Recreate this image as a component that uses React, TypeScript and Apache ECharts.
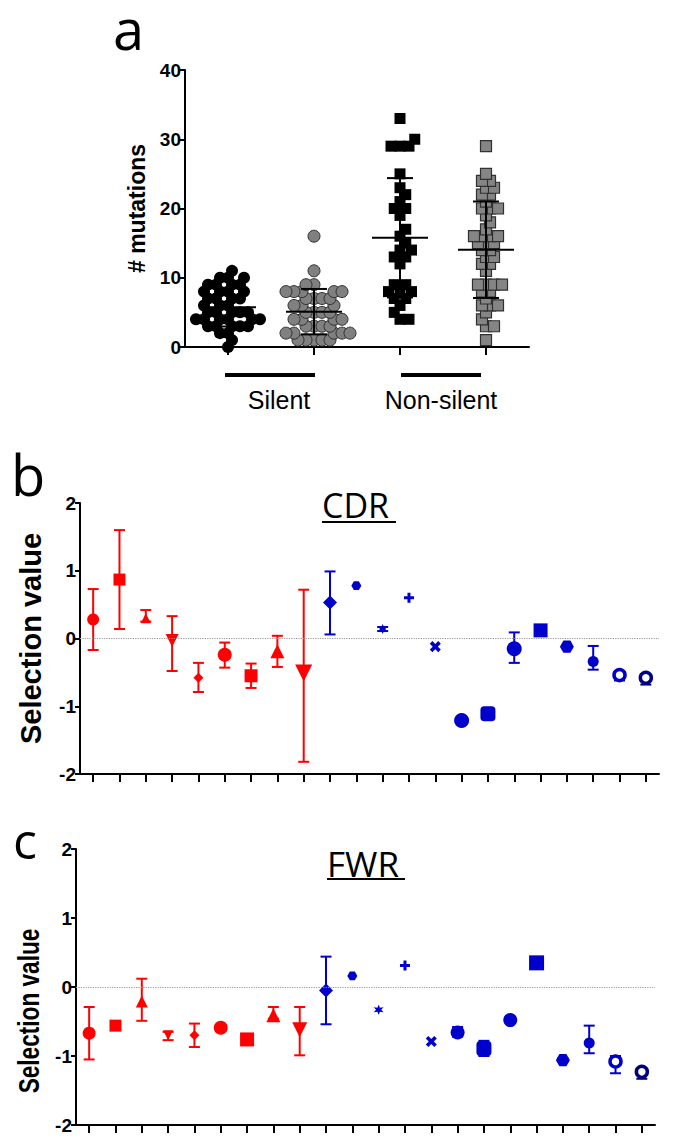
import React, { useEffect, useRef } from "react";
import * as echarts from "echarts";

// ---------- Panel a data (# mutations per sequence) ----------
const GROUPS = ["Silent 1", "Silent 2", "Non-silent 1", "Non-silent 2"];
const SILENT_BLACK = [0, 1, 2, 2, 3, 3, 3, 3, 3, 4, 4, 4, 4, 4, 4, 5, 5, 5, 5, 5, 6, 6, 6, 7, 7, 7, 7, 8, 8, 8, 8, 9, 9, 9, 9, 10, 10, 10, 11];
const SILENT_GRAY = [1, 1, 1, 1, 1, 2, 2, 2, 2, 2, 3, 3, 3, 3, 4, 4, 4, 4, 5, 5, 5, 5, 6, 6, 6, 7, 7, 7, 7, 8, 8, 8, 8, 8, 9, 9, 11, 16];
const NONSILENT_BLACK = [33, 30, 29, 29, 29, 25, 23, 22, 21, 20, 20, 19, 17, 16, 15, 14, 14, 13, 13, 12, 9, 9, 8, 8, 8, 7, 7, 6, 5, 4, 4];
const NONSILENT_GRAY = [29, 25, 24, 24, 23, 23, 22, 22, 21, 20, 20, 20, 19, 18, 17, 16, 16, 16, 16, 15, 15, 15, 14, 14, 13, 13, 12, 12, 11, 9, 9, 9, 9, 8, 8, 7, 6, 6, 6, 5, 4, 3, 3, 1];

// ---------- Panels b / c data (selection value, mean with range) ----------
const SITES = ["1", "2", "3", "4", "5", "6", "7", "8", "9", "10", "11", "12", "13", "14", "15", "16", "17", "18", "19", "20", "21", "22"];
const CDR_MEAN = [0.28, 0.87, 0.30, -0.03, -0.58, -0.24, -0.55, -0.19, -0.51, 0.53, 0.78, 0.14, 0.60, -0.12, -1.21, -1.11, -0.15, 0.12, -0.12, -0.34, -0.54, -0.58];
const CDR_LOW = [-0.17, 0.14, 0.25, -0.48, -0.79, -0.43, -0.73, -0.42, -1.82, 0.06, 0.78, 0.11, 0.60, -0.12, -1.21, -1.11, -0.36, 0.12, -0.12, -0.46, -0.62, -0.68];
const CDR_HIGH = [0.73, 1.60, 0.42, 0.33, -0.36, -0.06, -0.37, 0.04, 0.72, 0.99, 0.78, 0.17, 0.60, -0.12, -1.21, -1.11, 0.09, 0.12, -0.12, -0.11, -0.54, -0.58];
const FWR_MEAN = [-0.67, -0.56, -0.21, -0.70, -0.70, -0.59, -0.76, -0.41, -0.62, -0.05, 0.16, -0.33, 0.31, -0.79, -0.66, -0.89, -0.48, 0.35, -1.06, -0.81, -1.08, -1.23];
const FWR_LOW = [-1.05, -0.60, -0.49, -0.77, -0.87, -0.62, -0.80, -0.46, -0.99, -0.54, 0.16, -0.33, 0.31, -0.79, -0.72, -1.00, -0.52, 0.35, -1.08, -0.96, -1.25, -1.33];
const FWR_HIGH = [-0.29, -0.52, 0.12, -0.65, -0.53, -0.57, -0.72, -0.29, -0.29, 0.44, 0.16, -0.33, 0.31, -0.79, -0.58, -0.78, -0.44, 0.35, -1.03, -0.56, -1.00, -1.23];

// ---------- styles ----------
const RED = "#ff0000";
const BLUE = "#0000cc";
const NAVY = "#000080";
const SITE_COLORS = [RED, RED, RED, RED, RED, RED, RED, RED, RED, BLUE, BLUE, BLUE, BLUE, BLUE, BLUE, BLUE, BLUE, BLUE, BLUE, BLUE, BLUE, NAVY];
const SITE_SHAPES = ["circle", "rect", "triangle", "triangleDown", "diamond", "circle", "rect", "triangle", "triangleDown", "diamond", "hexagon", "asterisk", "plus", "cross", "circle", "roundRect", "circle", "rect", "hexagon", "circle", "ring", "ring"];
const CDR_SIZES = [12, 12, 10, 13, 10, 14, 13, 14, 17, 14, 10, 10, 10, 12, 15, 15, 15, 14, 14, 11, 11, 11];
const FWR_SIZES = [13, 12, 12, 10, 10, 14, 14, 14, 15, 14, 10, 10, 10, 12, 14, 15, 14, 15, 14, 11, 11, 11];

const FONT = "'Liberation Sans', Arial, sans-serif";
const TITLE_FONT = "'Open Sans', 'Noto Sans', sans-serif";

const HEX = "path://M-10,0L-5,-8.66L5,-8.66L10,0L5,8.66L-5,8.66Z";
const PLUS = "path://M-3,-10H3V-3H10V3H3V10H-3V3H-10V-3H-3Z";
function starPath(): string {
  let d = "";
  for (let k = 0; k < 12; k++) {
    const a = (-90 + k * 30) * Math.PI / 180;
    const r = k % 2 === 0 ? 10 : 4.5;
    d += (k === 0 ? "M" : "L") + (r * Math.cos(a)).toFixed(2) + "," + (r * Math.sin(a)).toFixed(2);
  }
  return "path://" + d + "Z";
}
const STAR = starPath();

function markerItem(i: number, value: number, size: number) {
  const shape = SITE_SHAPES[i];
  const color = SITE_COLORS[i];
  const item: any = { value: [i, value], symbolSize: size, itemStyle: { color, opacity: 1 } };
  switch (shape) {
    case "triangleDown": item.symbol = "triangle"; item.symbolRotate = 180; break;
    case "hexagon": item.symbol = HEX; item.symbolSize = [size, size * 0.87]; break;
    case "plus": item.symbol = PLUS; break;
    case "cross": item.symbol = PLUS; item.symbolRotate = 45; break;
    case "asterisk": item.symbol = STAR; break;
    case "ring": item.symbol = "circle"; item.itemStyle = { color: "#fff", borderColor: color, borderWidth: 3.5, opacity: 1 }; break;
    default: item.symbol = shape;
  }
  return item;
}

// beeswarm layout (pixel space) computed from the values
function swarm(values: number[], g: number, d: number, pxX: number, pxY: number) {
  const sorted = [...values].sort((a, b) => a - b);
  const placed: { x: number; y: number }[] = [];
  const out: number[][] = [];
  for (const v of sorted) {
    const y = v * pxY;
    const cands = [0];
    for (const p of placed) {
      const dy = Math.abs(p.y - y);
      if (dy < d) {
        const dx = Math.sqrt(d * d - dy * dy);
        cands.push(p.x + dx, p.x - dx);
      }
    }
    cands.sort((a, b) => Math.abs(a) - Math.abs(b));
    let best = 0;
    for (const c of cands) {
      if (placed.every((p) => (p.x - c) ** 2 + (p.y - y) ** 2 >= d * d - 1e-6)) { best = c; break; }
    }
    placed.push({ x: best, y });
    out.push([g + best / pxX, v]);
  }
  return out;
}
function meanSd(values: number[]) {
  const m = values.reduce((a, b) => a + b, 0) / values.length;
  const v = values.reduce((a, b) => a + (b - m) ** 2, 0) / (values.length - 1);
  return [m, Math.sqrt(v)];
}

// layout
const GA = { left: 185, top: 70, width: 344, height: 277 };
const GB = { left: 80, top: 503, width: 579, height: 271 };
const GC = { left: 76, top: 849, width: 579, height: 276 };

function buildOption() {
  const pxX = GA.width / 4;
  const pxY = GA.height / 40;
  const groupsData = [SILENT_BLACK, SILENT_GRAY, NONSILENT_BLACK, NONSILENT_GRAY];
  const groupStyles = [
    { symbol: "circle", symbolSize: 12, itemStyle: { color: "#000", opacity: 1 }, d: 8 },
    { symbol: "circle", symbolSize: 12, itemStyle: { color: "#808080", borderColor: "#303030", borderWidth: 1, opacity: 1 }, d: 8 },
    { symbol: "rect", symbolSize: 11, itemStyle: { color: "#000", opacity: 1 }, d: 9 },
    { symbol: "rect", symbolSize: 11, itemStyle: { color: "#858585", borderColor: "#303030", borderWidth: 1.2, opacity: 1 }, d: 8 },
  ];

  const axisLine = { show: true, onZero: false, lineStyle: { color: "#000", width: 2 } };
  const yLabel = { color: "#000", fontFamily: FONT, fontWeight: "bold", fontSize: 19, margin: 4 };

  const series: any[] = [];
  groupsData.forEach((vals, g) => {
    const st = groupStyles[g];
    series.push({
      type: "scatter", name: GROUPS[g], xAxisIndex: 1, yAxisIndex: 0,
      symbol: st.symbol, symbolSize: st.symbolSize, itemStyle: st.itemStyle,
      data: swarm(vals, g, st.d, pxX, pxY), z: 2,
    });
  });
  series.push({
    type: "custom", xAxisIndex: 1, yAxisIndex: 0, z: 5, silent: true,
    data: groupsData.map((vals, g) => [g, ...meanSd(vals)]),
    renderItem: (params: any, api: any) => {
      const g = api.value(0), m = api.value(1), s = api.value(2);
      const c = api.coord([g, m]);
      const t = api.coord([g, m + s]);
      const b = api.coord([g, m - s]);
      const st = { stroke: "#000", lineWidth: 2 };
      return {
        type: "group", children: [
          { type: "line", shape: { x1: c[0] - 28, y1: c[1], x2: c[0] + 28, y2: c[1] }, style: st },
          { type: "line", shape: { x1: c[0], y1: t[1], x2: c[0], y2: b[1] }, style: st },
          { type: "line", shape: { x1: c[0] - 13, y1: t[1], x2: c[0] + 13, y2: t[1] }, style: st },
          { type: "line", shape: { x1: c[0] - 13, y1: b[1], x2: c[0] + 13, y2: b[1] }, style: st },
        ],
      };
    },
  });

  const errSeries = (xi: number, yi: number, lo: number[], hi: number[]) => ({
    type: "custom", xAxisIndex: xi, yAxisIndex: yi, z: 3, silent: true,
    data: lo.map((l, i) => ({ value: [i, l, hi[i]], itemStyle: { color: SITE_COLORS[i] } })).filter((d) => d.value[1] !== d.value[2]),
    renderItem: (params: any, api: any) => {
      const x = api.value(0);
      const a = api.coord([x, api.value(1)]);
      const b = api.coord([x, api.value(2)]);
      const st = { stroke: api.visual("color"), lineWidth: 2 };
      return {
        type: "group", children: [
          { type: "line", shape: { x1: a[0], y1: a[1], x2: b[0], y2: b[1] }, style: st },
          { type: "line", shape: { x1: a[0] - 5.5, y1: a[1], x2: a[0] + 5.5, y2: a[1] }, style: st },
          { type: "line", shape: { x1: b[0] - 5.5, y1: b[1], x2: b[0] + 5.5, y2: b[1] }, style: st },
        ],
      };
    },
  });
  const zeroLine = {
    silent: true, symbol: ["none", "none"], label: { show: false },
    lineStyle: { type: "dotted", color: "#999", width: 1.2 }, data: [{ yAxis: 0 }],
  };

  series.push(errSeries(2, 1, CDR_LOW, CDR_HIGH));
  series.push({
    type: "scatter", name: "CDR", xAxisIndex: 2, yAxisIndex: 1, z: 4,
    data: CDR_MEAN.map((v, i) => markerItem(i, v, CDR_SIZES[i])), markLine: zeroLine,
  });
  series.push(errSeries(3, 2, FWR_LOW, FWR_HIGH));
  series.push({
    type: "scatter", name: "FWR", xAxisIndex: 3, yAxisIndex: 2, z: 4,
    data: FWR_MEAN.map((v, i) => markerItem(i, v, FWR_SIZES[i])), markLine: zeroLine,
  });

  const catAxis = (gi: number, data: string[]) => ({
    type: "category", gridIndex: gi, data, boundaryGap: true,
    axisLine, axisLabel: { show: false }, splitLine: { show: false },
    axisTick: { show: true, alignWithLabel: true, length: 8, lineStyle: { color: "#000", width: 2 } },
  });
  const valAxis = (gi: number, min: number, max: number, interval: number, name: string, nameGap: number, nameSize: number) => ({
    type: "value", gridIndex: gi, min, max, interval,
    name, nameLocation: "middle", nameGap,
    nameTextStyle: { color: "#000", fontFamily: FONT, fontWeight: "bold", fontSize: nameSize },
    axisLine, axisLabel: yLabel, splitLine: { show: false },
    axisTick: { show: true, length: 5, lineStyle: { color: "#000", width: 2 } },
  });

  const txt = (text: string, x: number, y: number, size: number, family: string, align = "left", lineHeight?: number) => ({
    type: "text", x, y, silent: true,
    style: { text, fill: "#000", fontSize: size, fontFamily: family, fontWeight: "normal", lineHeight: lineHeight ?? size, align, verticalAlign: "middle", textAlign: align, textVerticalAlign: "middle" },
  });
  const ln = (x1: number, y1: number, x2: number, y2: number, w: number) => ({
    type: "line", silent: true, shape: { x1, y1, x2, y2 }, style: { stroke: "#000", lineWidth: w },
  });

  return {
    animation: false,
    backgroundColor: "#fff",
    grid: [GA, GB, GC].map((g) => ({ ...g, containLabel: false })),
    xAxis: [
      catAxis(0, GROUPS),
      { type: "value", gridIndex: 0, min: -0.5, max: 3.5, show: false },
      catAxis(1, SITES),
      catAxis(2, SITES),
    ],
    yAxis: [
      valAxis(0, 0, 40, 10, "# mutations", 36, 23),
      valAxis(1, -2, 2, 1, "Selection value", 35, 29),
      valAxis(2, -2, 2, 1, "", 35, 29),
    ],
    series,
    graphic: [
      txt("a", 113, 28, 56, TITLE_FONT, "left", 40),
      txt("b", 11, 474, 56, TITLE_FONT),
      txt("c", 13, 840, 50, TITLE_FONT),
      txt("CDR", 322, 505, 34, TITLE_FONT),
      ln(322, 522, 396, 522, 2),
      txt("FWR", 327, 863, 35, TITLE_FONT),
      ln(327, 879, 405, 879, 2),
      ln(225, 375, 315, 375, 4),
      ln(401, 375, 481, 375, 4),
      txt("Silent", 279, 400, 25, FONT, "center"),
      txt("Non-silent", 441, 400, 25, FONT, "center"),
      {
        type: "text", x: 29, y: 1011, rotation: Math.PI / 2, scaleX: 0.78, silent: true,
        style: { text: "Selection value", fill: "#000", fontSize: 29, fontFamily: FONT, fontWeight: "bold", align: "center", verticalAlign: "middle", textAlign: "center", textVerticalAlign: "middle" },
      },
    ],
  };
}

export default function App() {
  const ref = useRef<HTMLDivElement>(null);
  useEffect(() => {
    document.body.style.margin = "0";
    if (!ref.current) return;
    const chart = echarts.init(ref.current, null, { renderer: "svg" });
    chart.setOption(buildOption() as any);
    return () => chart.dispose();
  }, []);
  return <div ref={ref} style={{ width: 675, height: 1148 }} />;
}
